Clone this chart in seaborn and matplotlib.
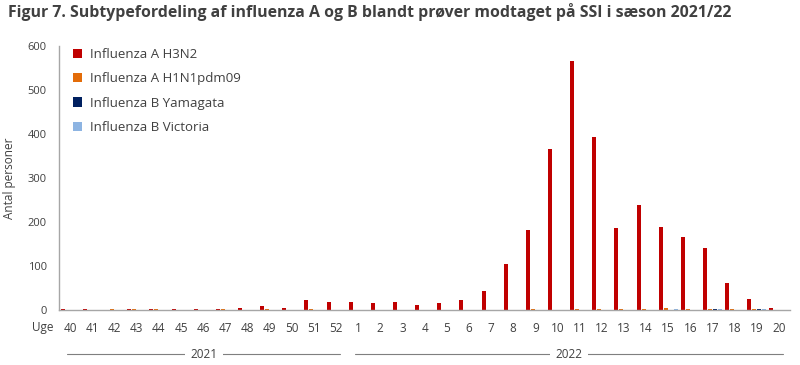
import pandas as pd
import seaborn as sns
import matplotlib.pyplot as plt
from matplotlib.transforms import blended_transform_factory

# Data (antal personer per uge)
weeks = ['40', '41', '42', '43', '44', '45', '46', '47', '48', '49', '50', '51', '52',
         '1', '2', '3', '4', '5', '6', '7', '8', '9', '10', '11', '12', '13', '14',
         '15', '16', '17', '18', '19', '20']
years = ['2021'] * 13 + ['2022'] * 20
h3n2 = [2, 2, 0, 2, 2, 2, 2, 2, 5, 9, 5, 23, 18,
        18, 16, 18, 11, 16, 23, 43, 105, 182, 365, 566, 393, 186, 239,
        189, 166, 141, 61, 25, 5]
h1n1 = [0, 0, 2, 2, 2, 0, 0, 2, 0, 2, 0, 2, 0,
        0, 0, 0, 0, 0, 0, 0, 0, 2, 0, 2, 2, 2, 2,
        5, 2, 2, 2, 2, 0]
yamagata = [0] * 29 + [2, 0, 2, 0]
victoria = [0] * 27 + [2, 0, 2, 0, 2, 0]

series = ['Influenza A H3N2', 'Influenza A H1N1pdm09', 'Influenza B Yamagata', 'Influenza B Victoria']
colors = ['#C00000', '#E36C09', '#002060', '#8DB4E2']

df = pd.DataFrame({'uge': weeks * 4,
                   'type': sum([[s] * len(weeks) for s in series], []),
                   'antal': h3n2 + h1n1 + yamagata + victoria})

sns.set_style('white')
plt.rcParams['font.family'] = ['Open Sans', 'DejaVu Sans']
txt = '#404040'
grey = '#A6A6A6'

fig = plt.figure(figsize=(8, 3.65), dpi=100)
ax = fig.add_axes([0.074, 0.151, 0.9135, 0.723])

sns.barplot(data=df, x='uge', y='antal', hue='type', hue_order=series, order=weeks,
            palette=colors, saturation=1, width=0.9, gap=0.2, linewidth=0, ax=ax)

ax.set_xlim(-0.5, len(weeks) - 0.5)
ax.set_ylim(0, 600)
ax.set_yticks(range(0, 601, 100))
ax.set_xlabel('')
ax.set_ylabel('Antal personer', fontsize=8.5, color=txt, labelpad=8)

for s in ['top', 'right']:
    ax.spines[s].set_visible(False)
for s in ['left', 'bottom']:
    ax.spines[s].set_color(grey)
    ax.spines[s].set_linewidth(1)

ax.set_xticks(range(len(weeks)))
ax.set_xticklabels(weeks)
ax.set_xticks([i - 0.5 for i in range(len(weeks) + 1)], minor=True)
ax.tick_params(axis='x', which='major', length=0, pad=9, labelsize=8.5, labelcolor=txt)
ax.tick_params(axis='x', which='minor', length=5, width=1, color=grey, direction='out')
ax.tick_params(axis='y', length=5, width=1, color=grey, direction='out', labelsize=8, labelcolor=txt, pad=4)

ax.text(-0.008, -0.068, 'Uge', transform=ax.transAxes, ha='right', va='center',
        fontsize=8.5, color=txt)

# year brackets under the week labels
tr = blended_transform_factory(ax.transData, ax.transAxes)
for yr in ['2021', '2022']:
    idx = [i for i, y in enumerate(years) if y == yr]
    x0 = idx[0] - 0.5 + 0.35
    x1 = idx[-1] + 0.5 - 0.3
    ax.plot([x0, x1], [-0.168, -0.168], transform=tr, color='#7F7F7F', lw=0.8, clip_on=False)
    ax.text((x0 + x1) / 2, -0.168, yr, transform=tr, ha='center', va='center', fontsize=8.5,
            color=txt, bbox=dict(fc='white', ec='none', pad=4))

handles, labels = ax.get_legend_handles_labels()
for h in handles:
    h.set_linewidth(0)
ax.legend(handles, labels, loc='upper left', bbox_to_anchor=(0.012, 1.012), frameon=False,
          fontsize=9.5, handlelength=0.7, handleheight=0.7, handletextpad=0.55,
          labelspacing=0.85, borderaxespad=0, labelcolor=txt)

fig.text(0.01, 0.953, 'Figur 7. Subtypefordeling af influenza A og B blandt prøver modtaget på SSI i sæson 2021/22',
         fontsize=11.4, fontweight='bold', color=txt, va='baseline')

fig.savefig('out.png', dpi=100)
